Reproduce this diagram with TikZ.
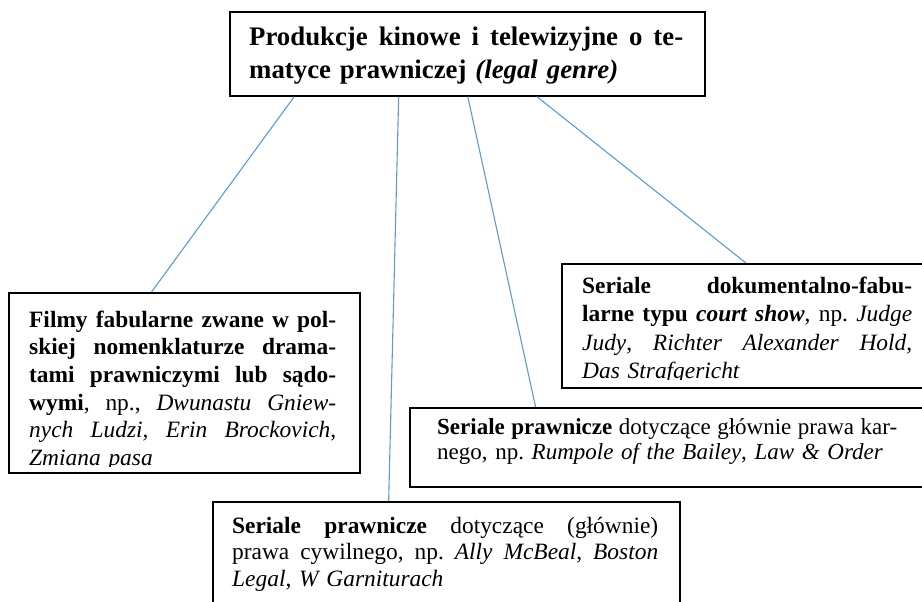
\documentclass[tikz,border=0pt]{standalone}
\usepackage{fontspec}
\setmainfont{Liberation Serif}
\usetikzlibrary{calc}
\definecolor{linkblue}{HTML}{5B9BD5}
\frenchspacing
\newlength{\jw}
\newcommand{\jline}[1]{{\spaceskip=.25em plus 6em minus .04em\makebox[\jw][s]{#1}}\\}

\begin{document}
\begin{tikzpicture}[
 x=1pt,y=-1pt,
 frame/.style={draw,line width=1.6pt,inner sep=0pt,anchor=north west},
 txt/.style={anchor=base west,inner sep=0pt,text width=#1,execute at begin node={\global\jw=#1\relax}},
 link/.style={draw=linkblue,line width=1.1pt}
]
\clip (0,0) rectangle (922,602);
% frames
\node[frame,minimum width=475pt,minimum height=84pt] (top) at (229,11) {};
\node[frame,minimum width=351pt,minimum height=180pt] (films) at (8,292) {};
\node[frame,minimum width=361pt,minimum height=124pt] (court) at (561,263) {};
\node[frame,minimum width=513pt,minimum height=79pt] (crim) at (409,407) {};
\node[frame,minimum width=467pt,minimum height=120pt] (civil) at (212,501) {};
% texts
\node[txt=434pt,font=\bfseries\fontsize{26.8}{33}\selectfont] (topText) at (249,46)
 {\jline{Produkcje kinowe i telewizyjne o te-}matyce prawniczej \textit{(legal genre)}};
\begin{scope}
\clip (films.north west) rectangle ($(films.south east)+(0,-7)$);
\node[txt=307pt,font=\fontsize{23.4}{27.7}\selectfont] (filmsText) at (29,327)
 {\jline{\textbf{Filmy fabularne zwane w pol-}}\jline{\textbf{skiej nomenklaturze drama-}}\jline{\textbf{tami prawniczymi lub sądo-}}\jline{\textbf{wymi}, np., \textit{Dwunastu Gniew-}}\jline{\textit{nych Ludzi, Erin Brockovich,}}\textit{Zmiana pasa}};
\end{scope}
\begin{scope}
\clip (court.north west) rectangle ($(court.south east)+(0,-9)$);
\node[txt=330pt,font=\fontsize{23.4}{28.5}\selectfont] (courtText) at (582,293)
 {\jline{\textbf{Seriale dokumentalno-fabu-}}\jline{\textbf{larne typu \textit{court show}}, np. \textit{Judge}}\jline{\textit{Judy}, \textit{Richter Alexander Hold},}\textit{Das Strafgericht}};
\end{scope}
\node[txt=460pt,font=\fontsize{23}{25}\selectfont] (crimText) at (437,434)
 {\jline{\textbf{Seriale prawnicze} dotyczące głównie prawa kar-}nego, np. \textit{Rumpole of the Bailey}, \textit{Law \& Order}};
\node[txt=426pt,font=\fontsize{23.4}{26.8}\selectfont] (civilText) at (232,533)
 {\jline{\textbf{Seriale prawnicze} dotyczące (głównie)}\jline{prawa cywilnego, np. \textit{Ally McBeal}, \textit{Boston}}\textit{Legal}, \textit{W Garniturach}};
% connectors
\draw[link] ($(top.south west)!.137!(top.south east)$) -- ($(films.north west)!.407!(films.north east)$);
\draw[link] ($(top.south west)!.356!(top.south east)$) -- ($(civil.north west)!.377!(civil.north east)$);
\draw[link] ($(top.south west)!.501!(top.south east)$) -- ($(crim.north west)!.246!(crim.north east)$);
\draw[link] ($(top.south west)!.646!(top.south east)$) -- ($(court.north west)!.51!(court.north east)$);
\end{tikzpicture}
\end{document}
